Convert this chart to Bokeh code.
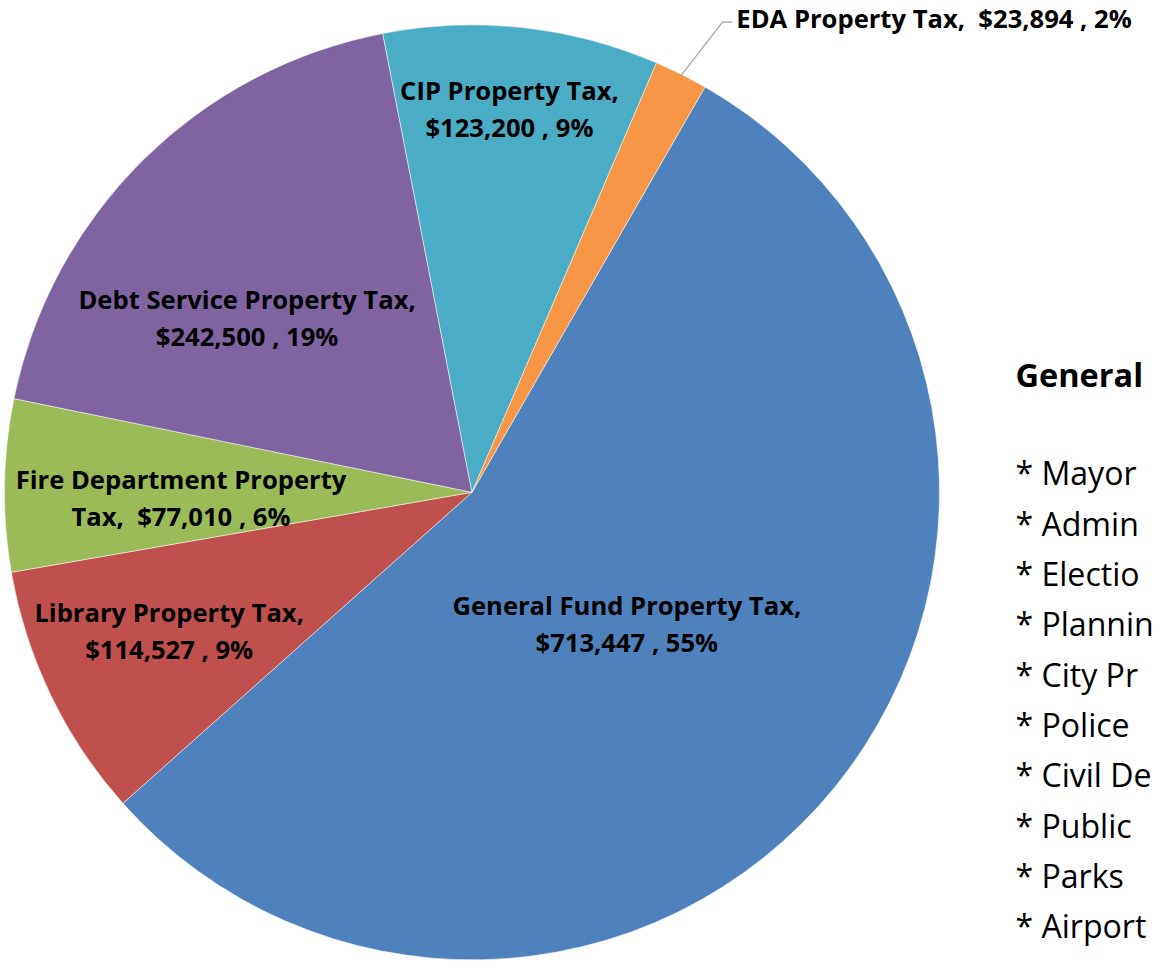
import math
from bokeh.plotting import figure
from bokeh.models import Range1d, ColumnDataSource
from bokeh.core.properties import value
from bokeh.embed import file_html
from bokeh.resources import INLINE

# ---- data ----
categories = ["General Fund Property Tax", "Library Property Tax", "Fire Department Property Tax",
              "Debt Service Property Tax", "CIP Property Tax", "EDA Property Tax"]
amounts = [713447, 114527, 77010, 242500, 123200, 23894]
percents = [55, 9, 6, 19, 9, 2]
colors = ["#4F81BD", "#C0504D", "#9BBB59", "#8064A2", "#4BACC6", "#F79646"]
# text box at the right edge (cut off by the picture's edge in the reference)
note_title = "General"
note_items = ["* Mayor", "* Admin", "* Electio", "* Plannin", "* City Pr", "* Police",
              "* Civil De", "* Public", "* Parks", "* Airport"]

# ---- layout: coordinates in reference pixels ----
RW, RH = 1171, 977
W, H = 1155, 961
S = W / RW  # pixel scale for font sizes

def sy(y):
    return RH - y

def fs(px):
    return f"{px * S:.1f}px"

cx, cy, R = 478, sy(500), 474
start_clock = 29.9  # degrees clockwise from 12 o'clock where first slice starts
wrap_words = [4, 3, 3, 4, 3, None]
label_pos = [(635, 634), (171, 641), (183, 506), (250, 323), (516, 110), (746, 18)]
line_gap = 37.5
FONT = "Open Sans"

p = figure(width=W, height=H, x_range=Range1d(0, RW), y_range=Range1d(0, RH),
           x_axis_type=None, y_axis_type=None, output_backend="svg", toolbar_location=None,
           min_border=0)
p.grid.visible = False
p.outline_line_color = None
p.background_fill_color = "white"
p.border_fill_color = "white"

total = sum(amounts)
starts, ends, mids = [], [], []
cum = 0.0
for a in amounts:
    c0 = start_clock + cum / total * 360
    c1 = start_clock + (cum + a) / total * 360
    cum += a
    starts.append(math.radians(90 - c1))
    ends.append(math.radians(90 - c0))
    mids.append((c0 + c1) / 2)

src = ColumnDataSource(dict(start=starts, end=ends, color=colors))
p.wedge(x=cx, y=cy, radius=R, start_angle="start", end_angle="end", fill_color="color",
        line_color="white", line_width=0.5, source=src)

# leader line for the EDA slice
m = mids[-1]
ax = cx + R * math.sin(math.radians(m))
ay = cy + R * math.cos(math.radians(m))
p.line([ax, 732, 742], [ay, sy(22), sy(22)], line_color="#A0A0A0", line_width=1.2)

# data labels
lx, ly, lt, la = [], [], [], []
for i, name in enumerate(categories):
    full = f"{name},\u00a0 ${amounts[i]:,} , {percents[i]}%"
    x, y = label_pos[i]
    if wrap_words[i] is None:
        lx.append(x); ly.append(sy(y)); lt.append(full); la.append("left")
    else:
        words = full.split(" ")
        n = wrap_words[i]
        l1 = " ".join(words[:n]).strip().rstrip("\u00a0")
        l2 = " ".join(words[n:]).strip()
        lx += [x, x]; ly += [sy(y - line_gap / 2), sy(y + line_gap / 2)]
        lt += [l1, l2]; la += ["center", "center"]

p.text(x="x", y="y", text="t", text_align="a", text_baseline="middle",
       source=ColumnDataSource(dict(x=lx, y=ly, t=lt, a=la)),
       text_font=value(FONT), text_font_style="bold", text_font_size=fs(26), text_color="black")

# text box at right
p.text(x=[1029], y=[sy(380)], text=[note_title], text_baseline="middle", text_align="left",
       text_font=value(FONT), text_font_style="bold", text_font_size=fs(33), text_color="black")
ny = [sy(480 + k * 51.2) for k in range(len(note_items))]
p.text(x=[1029] * len(note_items), y=ny, text=note_items, text_baseline="middle", text_align="left",
       text_font=value(FONT), text_font_size=fs(32.5), text_color="black")

open("out.html", "w").write(file_html(p, INLINE))
